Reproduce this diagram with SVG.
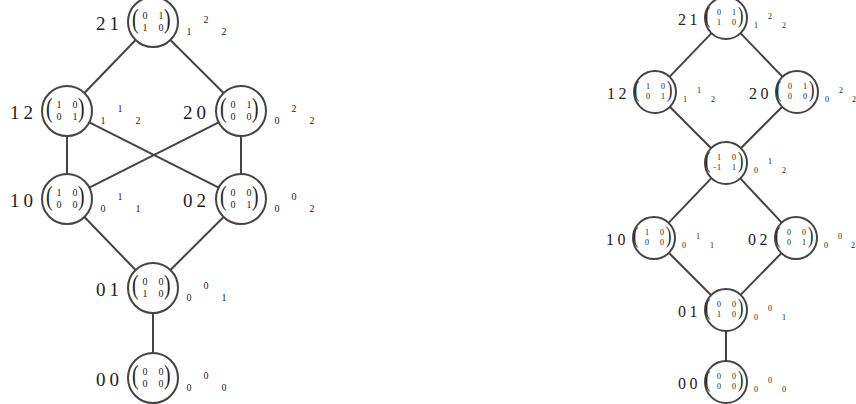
<svg xmlns="http://www.w3.org/2000/svg" width="856" height="404" viewBox="0 0 856 404">
<style>
.c{fill:#fff;stroke:#444;stroke-width:2}
.e line{stroke:#444;stroke-width:2}
text{font-family:"Liberation Serif","DejaVu Serif",serif;fill:#222}
.L{font-size:19px;letter-spacing:4px}
.m{font-size:10px;text-anchor:middle}
.s{font-size:10px;text-anchor:middle}
.p{font-size:28px}
.R{font-size:16px;letter-spacing:3.5px}
.rm{font-size:8px;text-anchor:end}
.rs{font-size:8px;text-anchor:middle}
.rp{font-size:23px}
</style>
<defs>
<text id="pl" class="p" transform="translate(-21,6) scale(0.7,1)">(</text>
<text id="pr" class="p" transform="translate(11,6) scale(0.7,1)">)</text>
<text id="rpl" class="rp" transform="translate(-21,5) scale(0.7,1)">(</text>
<text id="rpr" class="rp" transform="translate(12,5) scale(0.7,1)">)</text>
</defs>
<rect width="856" height="404" fill="#fff"/>
<g class="e" id="connectors">
<line x1="135.6" y1="40" x2="84.4" y2="93"/>
<line x1="170.4" y1="40" x2="223.6" y2="93"/>
<line x1="67" y1="136" x2="67" y2="174"/>
<line x1="241" y1="136" x2="241" y2="174"/>
<line x1="89.3" y1="122.3" x2="218.7" y2="187.7"/>
<line x1="218.7" y1="122.3" x2="89.3" y2="187.7"/>
<line x1="84.4" y1="217" x2="135.6" y2="270"/>
<line x1="223.6" y1="217" x2="170.4" y2="270"/>
<line x1="153" y1="313" x2="153" y2="353"/>
<line x1="711.5" y1="33.1" x2="669.5" y2="76.9"/>
<line x1="740.5" y1="33.1" x2="782.5" y2="76.9"/>
<line x1="669.8" y1="106.8" x2="711.2" y2="148.2"/>
<line x1="782.2" y1="106.8" x2="740.8" y2="148.2"/>
<line x1="711.4" y1="178.1" x2="668.6" y2="222.9"/>
<line x1="740.3" y1="178.4" x2="781.7" y2="222.6"/>
<line x1="668.8" y1="252.8" x2="711.2" y2="295.2"/>
<line x1="781.4" y1="253.1" x2="740.6" y2="294.9"/>
<line x1="726" y1="331" x2="726" y2="361"/>
</g>

<!-- Left graph -->
<g id="L21" transform="translate(153,22)">
<circle class="c" r="25"/>
<text class="L" x="-57" y="8">21</text>
<use href="#pl"/><use href="#pr"/>
<text class="m" x="-8" y="-3">0</text><text class="m" x="8" y="-3">1</text>
<text class="m" x="-8" y="9">1</text><text class="m" x="8" y="9">0</text>
<text class="s" x="36" y="13">1</text><text class="s" x="53" y="1">2</text><text class="s" x="71" y="13">2</text>
</g>
<g id="L12" transform="translate(67,111)">
<circle class="c" r="25"/>
<text class="L" x="-57" y="8">12</text>
<use href="#pl"/><use href="#pr"/>
<text class="m" x="-8" y="-3">1</text><text class="m" x="8" y="-3">0</text>
<text class="m" x="-8" y="9">0</text><text class="m" x="8" y="9">1</text>
<text class="s" x="36" y="13">1</text><text class="s" x="53" y="1">1</text><text class="s" x="71" y="13">2</text>
</g>
<g id="L20" transform="translate(241,111)">
<circle class="c" r="25"/>
<text class="L" x="-58" y="8">20</text>
<use href="#pl"/><use href="#pr"/>
<text class="m" x="-8" y="-3">0</text><text class="m" x="8" y="-3">1</text>
<text class="m" x="-8" y="9">0</text><text class="m" x="8" y="9">0</text>
<text class="s" x="36" y="13">0</text><text class="s" x="53" y="1">2</text><text class="s" x="71" y="13">2</text>
</g>
<g id="L10" transform="translate(67,199)">
<circle class="c" r="25"/>
<text class="L" x="-57" y="8">10</text>
<use href="#pl"/><use href="#pr"/>
<text class="m" x="-8" y="-3">1</text><text class="m" x="8" y="-3">0</text>
<text class="m" x="-8" y="9">0</text><text class="m" x="8" y="9">0</text>
<text class="s" x="36" y="13">0</text><text class="s" x="53" y="1">1</text><text class="s" x="71" y="13">1</text>
</g>
<g id="L02" transform="translate(241,199)">
<circle class="c" r="25"/>
<text class="L" x="-58" y="8">02</text>
<use href="#pl"/><use href="#pr"/>
<text class="m" x="-8" y="-3">0</text><text class="m" x="8" y="-3">0</text>
<text class="m" x="-8" y="9">0</text><text class="m" x="8" y="9">1</text>
<text class="s" x="36" y="13">0</text><text class="s" x="53" y="1">0</text><text class="s" x="71" y="13">2</text>
</g>
<g id="L01" transform="translate(153,288)">
<circle class="c" r="25"/>
<text class="L" x="-57" y="8">01</text>
<use href="#pl"/><use href="#pr"/>
<text class="m" x="-8" y="-3">0</text><text class="m" x="8" y="-3">0</text>
<text class="m" x="-8" y="9">1</text><text class="m" x="8" y="9">0</text>
<text class="s" x="36" y="13">0</text><text class="s" x="53" y="1">0</text><text class="s" x="71" y="13">1</text>
</g>
<g id="L00" transform="translate(153,378)">
<circle class="c" r="25"/>
<text class="L" x="-57" y="8">00</text>
<use href="#pl"/><use href="#pr"/>
<text class="m" x="-8" y="-3">0</text><text class="m" x="8" y="-3">0</text>
<text class="m" x="-8" y="9">0</text><text class="m" x="8" y="9">0</text>
<text class="s" x="36" y="13">0</text><text class="s" x="53" y="1">0</text><text class="s" x="71" y="13">0</text>
</g>

<!-- Right graph -->
<g id="R21" transform="translate(726,18)">
<circle class="c" r="21"/>
<text class="R" x="-48" y="7">21</text>
<use href="#rpl"/><use href="#rpr"/>
<text class="rm" x="-5" y="-3">0</text><text class="rm" x="10" y="-3">1</text>
<text class="rm" x="-5" y="7">1</text><text class="rm" x="10" y="7">0</text>
<text class="rs" x="30" y="10">1</text><text class="rs" x="44" y="1">2</text><text class="rs" x="58" y="10">2</text>
</g>
<g id="R12" transform="translate(655,92)">
<circle class="c" r="21"/>
<text class="R" x="-48" y="7">12</text>
<use href="#rpl"/><use href="#rpr"/>
<text class="rm" x="-5" y="-3">1</text><text class="rm" x="10" y="-3">0</text>
<text class="rm" x="-5" y="7">0</text><text class="rm" x="10" y="7">1</text>
<text class="rs" x="30" y="10">1</text><text class="rs" x="44" y="1">1</text><text class="rs" x="58" y="10">2</text>
</g>
<g id="R20" transform="translate(797,92)">
<circle class="c" r="21"/>
<text class="R" x="-48" y="7">20</text>
<use href="#rpl"/><use href="#rpr"/>
<text class="rm" x="-5" y="-3">0</text><text class="rm" x="10" y="-3">1</text>
<text class="rm" x="-5" y="7">0</text><text class="rm" x="10" y="7">0</text>
<text class="rs" x="30" y="10">0</text><text class="rs" x="44" y="1">2</text><text class="rs" x="57" y="10">2</text>
</g>
<g id="RM" transform="translate(726,163)">
<circle class="c" r="21"/>
<use href="#rpl"/><use href="#rpr"/>
<text class="rm" x="-5" y="-3">1</text><text class="rm" x="10" y="-3">0</text>
<text class="rm" x="-5" y="7">−1</text><text class="rm" x="10" y="7">1</text>
<text class="rs" x="30" y="10">0</text><text class="rs" x="44" y="1">1</text><text class="rs" x="58" y="10">2</text>
</g>
<g id="R10" transform="translate(654,238)">
<circle class="c" r="21"/>
<text class="R" x="-48" y="7">10</text>
<use href="#rpl"/><use href="#rpr"/>
<text class="rm" x="-5" y="-3">1</text><text class="rm" x="10" y="-3">0</text>
<text class="rm" x="-5" y="7">0</text><text class="rm" x="10" y="7">0</text>
<text class="rs" x="30" y="10">0</text><text class="rs" x="44" y="1">1</text><text class="rs" x="58" y="10">1</text>
</g>
<g id="R02" transform="translate(796,238)">
<circle class="c" r="21"/>
<text class="R" x="-48" y="7">02</text>
<use href="#rpl"/><use href="#rpr"/>
<text class="rm" x="-5" y="-3">0</text><text class="rm" x="10" y="-3">0</text>
<text class="rm" x="-5" y="7">0</text><text class="rm" x="10" y="7">1</text>
<text class="rs" x="30" y="10">0</text><text class="rs" x="44" y="1">0</text><text class="rs" x="57" y="10">2</text>
</g>
<g id="R01" transform="translate(726,310)">
<circle class="c" r="21"/>
<text class="R" x="-48" y="7">01</text>
<use href="#rpl"/><use href="#rpr"/>
<text class="rm" x="-5" y="-3">0</text><text class="rm" x="10" y="-3">0</text>
<text class="rm" x="-5" y="7">1</text><text class="rm" x="10" y="7">0</text>
<text class="rs" x="30" y="10">0</text><text class="rs" x="44" y="1">0</text><text class="rs" x="58" y="10">1</text>
</g>
<g id="R00" transform="translate(726,382)">
<circle class="c" r="21"/>
<text class="R" x="-48" y="7">00</text>
<use href="#rpl"/><use href="#rpr"/>
<text class="rm" x="-5" y="-3">0</text><text class="rm" x="10" y="-3">0</text>
<text class="rm" x="-5" y="7">0</text><text class="rm" x="10" y="7">0</text>
<text class="rs" x="30" y="10">0</text><text class="rs" x="44" y="1">0</text><text class="rs" x="58" y="10">0</text>
</g>
</svg>
